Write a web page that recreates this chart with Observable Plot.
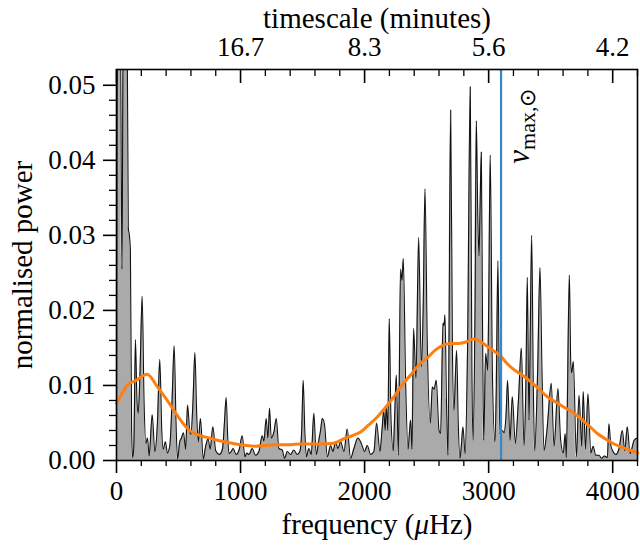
<!DOCTYPE html>
<html><head><meta charset="utf-8">
<script src="https://cdn.jsdelivr.net/npm/d3@7"></script>
<script src="https://cdn.jsdelivr.net/npm/@observablehq/plot@0.6"></script>
<style>
body{margin:0;background:#fff;}
svg text, svg tspan{font-family:"Liberation Serif", serif !important;}
</style>
</head><body><div id="chart"></div>
<script>
// power spectrum (frequency in µHz, normalised power)
const specFreq = [0,8,30,44,55,85,95,104,112,122,130,140,153,165,175,190,207,222,237,250,263,288,309,330,349,365,376,395,410,430,448,465,480,492,510,524,540,557,573,590,600,617,632,647,659,677,699,720,739,755,777,800,830,855,870,884,897,907,925,940,965,990,1013,1036,1050,1068,1094,1121,1148,1175,1188,1207,1220,1234,1247,1269,1288,1309,1336,1355,1377,1403,1430,1457,1478,1493,1505,1518,1530,1551,1570,1591,1610,1632,1645,1659,1677,1700,1726,1745,1766,1785,1807,1834,1860,1887,1914,1946,1973,2000,2022,2048,2075,2097,2124,2140,2155,2165,2175,2187,2199,2212,2231,2242,2256,2272,2290,2301,2312,2331,2350,2371,2382,2395,2414,2436,2457,2472,2487,2505,2530,2546,2560,2578,2600,2613,2632,2640,2648,2660,2672,2694,2708,2720,2742,2755,2769,2780,2793,2810,2830,2852,2865,2874,2890,2901,2912,2922,2930,2941,2950,2960,2976,2992,3000,3013,3030,3051,3062,3075,3090,3110,3124,3140,3153,3172,3191,3215,3240,3264,3285,3300,3312,3325,3347,3360,3371,3395,3414,3430,3446,3470,3505,3527,3559,3580,3602,3617,3626,3651,3662,3669,3683,3707,3729,3750,3763,3780,3801,3823,3843,3863,3890,3910,3935,3957,3970,3985,4000,4025,4050,4078,4097,4118,4140,4173,4200];
const specPower = [0.002,0.06,0.06,0.0255,0.06,0.06,0.031,0.030,0.028,0.004,0.0004,0.002,0.0161,0.008,0.0063,0.012,0.0219,0.008,0.0023,0.003,0.0006,0.0061,0.0012,0.005,0.0135,0.004,0.0015,0.0025,0.001,0.002,0.008,0.0153,0.005,0.0002,0.0025,0.003,0.0037,0.0015,0.0074,0.004,0.0035,0.008,0.0144,0.006,0.0025,0.0056,0.0002,0.002,0.0029,0.0015,0.0045,0.0013,0.0008,0.0016,0.005,0.0084,0.003,0.0009,0.0012,0.0016,0.0008,0.0015,0.0033,0.0005,0.001,0.0008,0.0016,0.0007,0.0012,0.0033,0.0026,0.0056,0.003,0.007,0.003,0.0038,0.0056,0.0016,0.0014,0.0003,0.0012,0.0008,0.0014,0.0008,0.0012,0.004,0.0107,0.004,0.0005,0.0016,0.0008,0.0063,0.0008,0.0028,0.004,0.0056,0.0048,0.0005,0.002,0.0012,0.0025,0.0016,0.0025,0.0012,0.0042,0.0003,0.0016,0.003,0.0023,0.0012,0.002,0.0008,0.0012,0.005,0.0012,0.004,0.0067,0.004,0.0072,0.004,0.0189,0.006,0.0013,0.0058,0.0114,0.0007,0.0255,0.024,0.0269,0.0103,0.0015,0.0054,0.0015,0.0176,0.011,0.0297,0.0125,0.02,0.0362,0.016,0.005,0.0098,0.0095,0.0107,0.004,0.0036,0.0183,0.018,0.0194,0.008,0.0007,0.0467,0.015,0.0067,0.0147,0.005,0.0003,0.002,0.0045,0.0009,0.015,0.0498,0.012,0.0027,0.02,0.0453,0.033,0.0273,0.033,0.0411,0.02,0.0027,0.0143,0.012,0.02,0.0407,0.012,0.0025,0.01,0.0266,0.0036,0.004,0.0037,0.006,0.0107,0.0027,0.0085,0.0023,0.008,0.015,0.002,0.01,0.0244,0.0054,0.030,0.01,0.0013,0.012,0.0257,0.012,0.0013,0.004,0.0103,0.0019,0.0096,0.0028,0.001,0.0036,0.0004,0.0247,0.013,0.0117,0.0132,0.0005,0.0087,0.0019,0.0092,0.0015,0.0089,0.001,0.0019,0.0007,0.0007,0.0003,0.0006,0.0004,0.0049,0.002,0.0013,0.0008,0.0015,0.004,0.0013,0.0045,0.0009,0.0027,0.003];

// smoothed background (orange)
const smoothFreq = [0,40,86,160,247,330,409,490,570,620,677,750,812,900,1000,1108,1200,1269,1400,1484,1645,1750,1833,1900,1968,2030,2102,2170,2237,2300,2371,2440,2506,2570,2640,2700,2760,2820,2882,2935,2990,3050,3097,3150,3204,3270,3339,3400,3473,3540,3608,3680,3742,3810,3876,3940,4011,4118,4200];
const smoothPower = [0.0076,0.0088,0.0100,0.0107,0.0115,0.0098,0.0080,0.0060,0.0043,0.0037,0.0033,0.0030,0.0027,0.0024,0.0021,0.0019,0.0020,0.0021,0.0021,0.0022,0.0022,0.0023,0.0029,0.0033,0.0038,0.0047,0.0058,0.0071,0.0085,0.0100,0.0114,0.0128,0.0137,0.0147,0.0154,0.0156,0.0156,0.0158,0.0162,0.0158,0.0152,0.0145,0.0139,0.0129,0.0121,0.0114,0.0105,0.0096,0.0085,0.0078,0.0071,0.0064,0.0056,0.0046,0.0036,0.0029,0.0022,0.0015,0.0010];

const numaxFreq = 3100;
const numaxLabel = "νmax,⊙";

const freqTicks = [0,1000,2000,3000,4000];
const freqTickLabels = ["0","1000","2000","3000","4000"];
const freqMinorTicks = [200,400,600,800,1200,1400,1600,1800,2200,2400,2600,2800,3200,3400,3600,3800,4200];
const topTicks = [1000,2000,3000,4000];
const topTickLabels = ["16.7","8.3","5.6","4.2"];
const powerTicks = [0,0.01,0.02,0.03,0.04,0.05];
const powerTickLabels = ["0.00","0.01","0.02","0.03","0.04","0.05"];
const powerMinorTicks = [0.002,0.004,0.006,0.008,0.012,0.014,0.016,0.018,0.022,0.024,0.026,0.028,0.032,0.034,0.036,0.038,0.042,0.044,0.046,0.048];

const xLabel = "frequency (μHz)";
const yLabel = "normalised power";
const topLabel = "timescale (minutes)";

const spec = specFreq.map((f, i) => ({f, p: specPower[i]}));
const smooth = smoothFreq.map((f, i) => ({f, p: smoothPower[i]}));

const W = 640, H = 549, mT = 69, mB = 89, mL = 116, mR = 3;
const plotH = H - mT - mB;
const lab = (arr, labels) => d => labels[arr.indexOf(d)];

const plot = Plot.plot({
  width: W, height: H,
  marginLeft: mL, marginRight: mR, marginTop: mT, marginBottom: mB,
  style: {fontFamily: "Liberation Serif", fontSize: "27px", background: "white", color: "black"},
  x: {domain: [0, 4200], axis: null},
  y: {domain: [0, 0.0521], axis: null},
  marks: [
    Plot.areaY(spec, {x: "f", y: "p", fill: "#aaaaaa", curve: "monotone-x", clip: true}),
    Plot.line(spec, {x: "f", y: "p", stroke: "#111", strokeWidth: 1.1, curve: "monotone-x", clip: true}),
    Plot.line(smooth, {x: "f", y: "p", stroke: "#ff7f0e", strokeWidth: 3, curve: "monotone-x"}),
    Plot.ruleX([numaxFreq], {x: d => d, stroke: "#3a88c8", strokeWidth: 2.2}),
    Plot.text([numaxFreq], {x: d => d, text: () => numaxLabel, frameAnchor: "top", rotate: -90, textAnchor: "end", dx: 6, dy: 19, fontSize: 31}),
    Plot.frame({stroke: "black", strokeWidth: 1.6}),
    // bottom axis
    Plot.axisX(freqTicks, {anchor: "bottom", label: null, tickSize: 13, tickPadding: 7, strokeWidth: 1.6, tickFormat: lab(freqTicks, freqTickLabels)}),
    Plot.axisX(freqMinorTicks, {anchor: "bottom", label: null, tickSize: 6, strokeWidth: 1.3, tickFormat: () => ""}),
    // top axis (inward ticks)
    Plot.ruleX(freqTicks, {x: d => d, insetBottom: plotH - 14, stroke: "black", strokeWidth: 1.6}),
    Plot.ruleX(freqMinorTicks, {x: d => d, insetBottom: plotH - 7, stroke: "black", strokeWidth: 1.3}),
    Plot.axisX(topTicks, {anchor: "top", label: null, tickSize: 0, tickPadding: 14, tickFormat: lab(topTicks, topTickLabels)}),
    // left axis
    Plot.axisY(powerTicks, {anchor: "left", label: null, tickSize: 13, tickPadding: 8, strokeWidth: 1.6, tickFormat: lab(powerTicks, powerTickLabels)}),
    Plot.axisY(powerMinorTicks, {anchor: "left", label: null, tickSize: 7, strokeWidth: 1.3, tickFormat: () => ""}),
    // titles
    Plot.text([xLabel], {text: d => d, frameAnchor: "bottom", textAnchor: "middle", dy: 73, fontSize: 29}),
    Plot.text([topLabel], {text: d => d, frameAnchor: "top", textAnchor: "middle", dy: -62, fontSize: 29}),
    Plot.text([yLabel], {text: d => d, frameAnchor: "left", textAnchor: "middle", rotate: -90, dx: -94, fontSize: 29})
  ]
});

// rich text: italic mu, nu with subscript
const NS = "http://www.w3.org/2000/svg";
plot.querySelectorAll("text").forEach(t => {
  const s = t.textContent;
  if (s === xLabel) {
    t.textContent = "";
    const a = document.createElementNS(NS, "tspan"); a.textContent = "frequency (";
    const b = document.createElementNS(NS, "tspan"); b.textContent = "μ"; b.setAttribute("font-style", "italic");
    const c = document.createElementNS(NS, "tspan"); c.textContent = "Hz)";
    t.append(a, b, c);
  } else if (s === numaxLabel) {
    t.textContent = "";
    const a = document.createElementNS(NS, "tspan"); a.textContent = "ν"; a.setAttribute("font-style", "italic");
    const b = document.createElementNS(NS, "tspan"); b.textContent = "max,⊙"; b.setAttribute("font-size", "22"); b.setAttribute("dy", "6");
    t.append(a, b);
  }
});
document.getElementById("chart").append(plot);
</script>
</body></html>
